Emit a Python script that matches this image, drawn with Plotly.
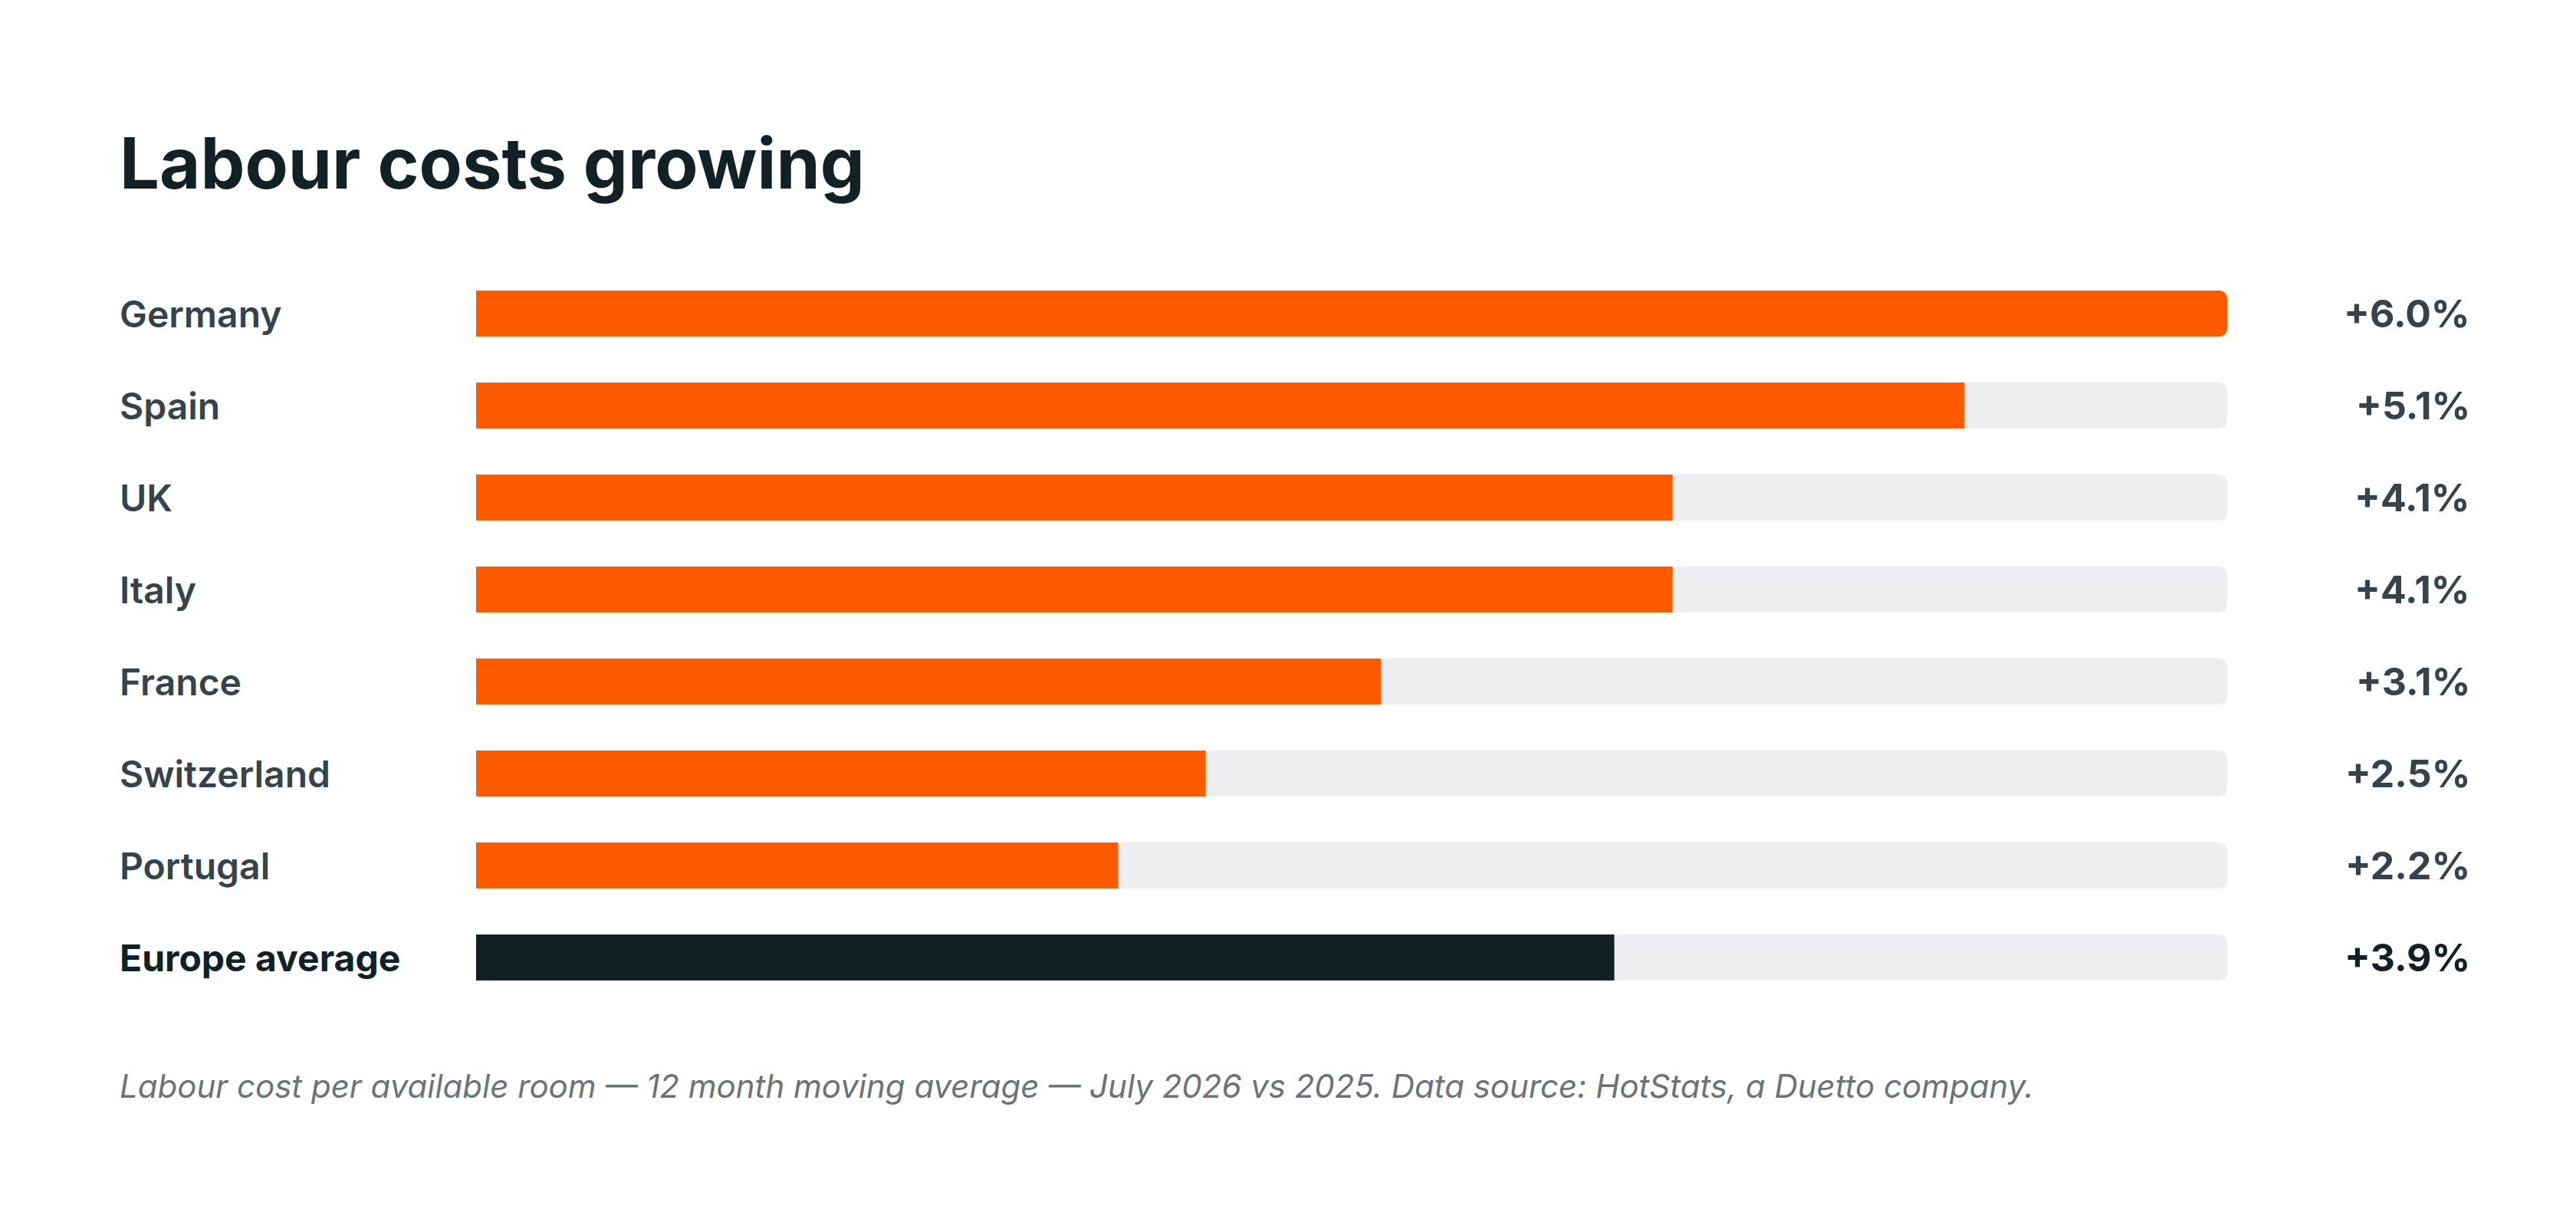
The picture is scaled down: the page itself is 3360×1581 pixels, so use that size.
import plotly.graph_objects as go

categories = ["Germany", "Spain", "UK", "Italy", "France", "Switzerland", "Portugal", "Europe average"]
values = [6.0, 5.1, 4.1, 4.1, 3.1, 2.5, 2.2, 3.9]
labels = ["+6.0%", "+5.1%", "+4.1%", "+4.1%", "+3.1%", "+2.5%", "+2.2%", "+3.9%"]
track_max = 6.0

W, H = 3360, 1581
ORANGE = "#FF5A00"
DARK = "#112126"
TRACK = "#EDEEF0"
LABEL = "#37434B"

colors = [DARK if c == "Europe average" else ORANGE for c in categories]

fig = go.Figure()
fig.add_trace(go.Bar(y=categories, x=[track_max]*len(categories), orientation="h",
                     marker=dict(color=TRACK, line=dict(width=0)), hoverinfo="skip"))
fig.add_trace(go.Bar(y=categories, x=values, orientation="h",
                     marker=dict(color=colors, line=dict(width=0))))

ann = []
for c, l in zip(categories, labels):
    avg = c == "Europe average"
    ann.append(dict(x=146/W, xref="paper", y=c, yref="y", text=c, showarrow=False,
                    xanchor="left", font=dict(family="Inter", size=48,
                    color=DARK if avg else LABEL, weight=700 if avg else 600)))
    ann.append(dict(x=3216/W, xref="paper", y=c, yref="y", text=l, showarrow=False,
                    xanchor="right", font=dict(family="Inter", size=50,
                    color=DARK if avg else LABEL, weight=700)))
ann.append(dict(x=146/W, xref="paper", y=1-204/H, yref="paper", yanchor="middle", xanchor="left",
                text="Labour costs growing", showarrow=False,
                font=dict(family="Inter", size=92, color=DARK, weight=700)))
ann.append(dict(x=146/W, xref="paper", y=1-1408/H, yref="paper", yanchor="middle", xanchor="left",
                text="<i>Labour cost per available room — 12 month moving average — July 2026 vs 2025. Data source: HotStats, a Duetto company.</i>",
                showarrow=False, font=dict(family="Inter", size=42, color="#6B7378")))

fig.update_layout(
    width=W, height=H, margin=dict(l=0, r=0, t=0, b=0),
    paper_bgcolor="white", plot_bgcolor="white",
    barmode="overlay", bargap=0.5, barcornerradius=10, showlegend=False,
    xaxis=dict(domain=[613/W, 2897/W], range=[0, track_max], visible=False, fixedrange=True),
    yaxis=dict(domain=[1-1301/H, 1-341/H], categoryorder="array",
               categoryarray=categories[::-1], visible=False),
    annotations=ann,
)
fig.write_html("out.html")
